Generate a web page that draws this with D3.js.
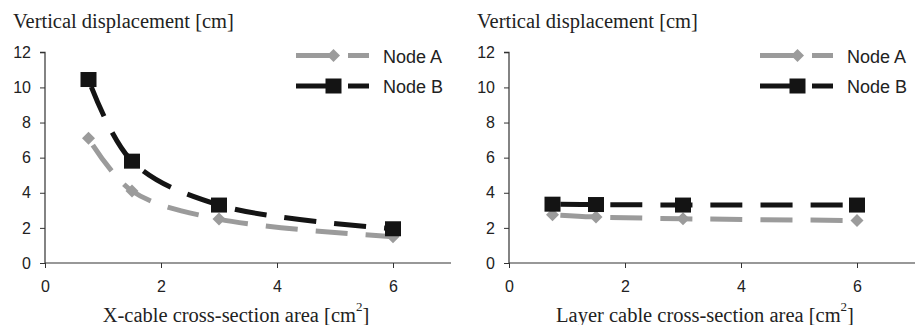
<!DOCTYPE html>
<html><head><meta charset="utf-8">
<script src="https://cdn.jsdelivr.net/npm/d3@7"></script>
<style>body{margin:0;background:#fff}svg{display:block}</style>
</head><body>
<svg id="c" width="917" height="325"></svg>
<script>
const xValues = [0.75, 1.5, 3, 6];
const xCableNodeA = [7.1, 4.1, 2.5, 1.5];
const xCableNodeB = [10.45, 5.8, 3.3, 1.95];
const layerNodeA = [2.75, 2.62, 2.52, 2.42];
const layerNodeB = [3.35, 3.33, 3.3, 3.3];
const xTicks = [0, 2, 4, 6];
const yTicks = [0, 2, 4, 6, 8, 10, 12];
const seriesNames = ["Node A", "Node B"];
const yTitle = "Vertical displacement [cm]";
const xTitles = ["X-cable cross-section area [cm", "Layer cable cross-section area [cm"];

const svg = d3.select("#c");
const GRAY = "#9b9b9b", BLACK = "#141414";

function panel(x0, dataA, dataB, xTitle, titleCenter) {
  const x = d3.scaleLinear().domain([0, 7]).range([x0, x0 + 406]);
  const y = d3.scaleLinear().domain([0, 12]).range([263, 52.3]);
  const g = svg.append("g");

  // y title
  g.append("text").attr("x", x0 - 32).attr("y", 28)
    .attr("font-family", "Liberation Serif, Times New Roman, serif")
    .attr("font-size", 20.5).attr("fill", "#222").text(yTitle);

  const ya = g.append("g").attr("transform", `translate(${x0},0)`)
    .call(d3.axisLeft(y).tickValues(yTicks).tickSize(5).tickPadding(9).tickFormat(d3.format("d")));
  const xa = g.append("g").attr("transform", `translate(0,263)`)
    .call(d3.axisBottom(x).tickValues(xTicks).tickSize(5).tickPadding(13).tickFormat(d3.format("d")));
  [ya, xa].forEach(a => {
    a.select(".domain").attr("stroke", "#333").attr("stroke-width", 1.2);
    a.selectAll(".tick line").attr("stroke", "#333");
    a.selectAll("text").attr("font-family", "Liberation Sans, Arial, sans-serif")
      .attr("font-size", 16).attr("fill", "#222");
  });
  ya.select(".domain").attr("d", `M-5,${y(12)}H0V${y(0)}`);
  xa.select(".domain").attr("d", `M${x(0)},0H${x(7)}`);

  // x title
  const t = g.append("text").attr("x", titleCenter).attr("y", 322)
    .attr("text-anchor", "middle")
    .attr("font-family", "Liberation Serif, Times New Roman, serif")
    .attr("font-size", 20.5).attr("fill", "#222");
  t.append("tspan").text(xTitle);
  t.append("tspan").attr("dy", -11).attr("font-size", 13).text("2");
  t.append("tspan").attr("dy", 11).text("]");

  const line = d3.line().x((d, i) => x(xValues[i])).y(d => y(d)).curve(d3.curveCatmullRom.alpha(0.5));
  const series = [
    {vals: dataA, color: GRAY, shape: "diamond"},
    {vals: dataB, color: BLACK, shape: "square"}
  ];
  series.forEach(s => {
    g.append("path").attr("d", line(s.vals)).attr("fill", "none")
      .attr("stroke", s.color).attr("stroke-width", 5)
      .attr("stroke-dasharray", "32,18").attr("stroke-dashoffset", -8);
  });
  series.forEach(s => {
    s.vals.forEach((v, i) => drawMarker(g, x(xValues[i]), y(v), s.shape, s.color));
  });

  // legend
  series.forEach((s, k) => {
    const ly = 55.5 + k * 30.5;
    const lx = x0 + 251;
    g.append("line").attr("x1", lx).attr("x2", lx + 38).attr("y1", ly).attr("y2", ly)
      .attr("stroke", s.color).attr("stroke-width", 5);
    g.append("line").attr("x1", lx + 52).attr("x2", lx + 73).attr("y1", ly).attr("y2", ly)
      .attr("stroke", s.color).attr("stroke-width", 5);
    drawMarker(g, lx + 37.5, ly, s.shape, s.color);
    g.append("text").attr("x", x0 + 338).attr("y", ly + 7)
      .attr("font-family", "Liberation Sans, Arial, sans-serif")
      .attr("font-size", 18).attr("fill", "#222").text(seriesNames[k]);
  });
}

function drawMarker(g, cx, cy, shape, color) {
  if (shape === "square") {
    g.append("rect").attr("x", cx - 8).attr("y", cy - 7.5).attr("width", 16).attr("height", 15)
      .attr("fill", color);
  } else {
    g.append("path").attr("d", `M${cx},${cy - 6.5}L${cx + 6.5},${cy}L${cx},${cy + 6.5}L${cx - 6.5},${cy}Z`)
      .attr("fill", color);
  }
}

panel(45, xCableNodeA, xCableNodeB, xTitles[0], 236);
panel(509, layerNodeA, layerNodeB, xTitles[1], 705);
</script>
</body></html>
